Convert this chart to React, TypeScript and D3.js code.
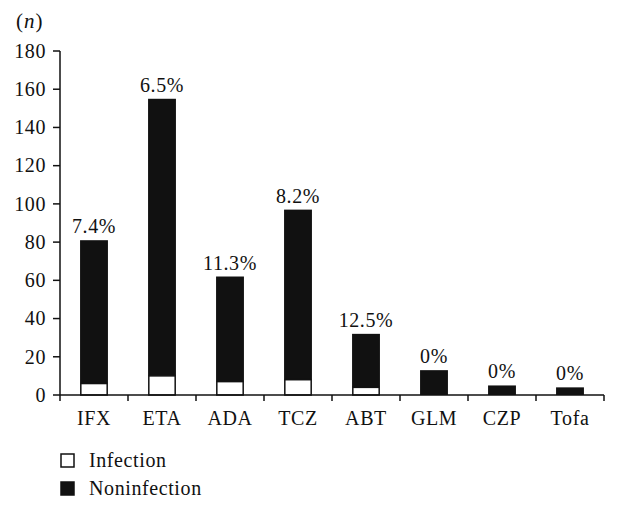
import React from "react";
import * as d3 from "d3";

const categories = ["IFX", "ETA", "ADA", "TCZ", "ABT", "GLM", "CZP", "Tofa"];
const totals = [81, 155, 62, 97, 32, 13, 5, 4];
const infection = [6, 10, 7, 8, 4, 0, 0, 0];
const percentLabels = ["7.4%", "6.5%", "11.3%", "8.2%", "12.5%", "0%", "0%", "0%"];
const yTicks = [0, 20, 40, 60, 80, 100, 120, 140, 160, 180];
const legendLabels = ["Infection", "Noninfection"];

const W = 620;
const H = 509;
const FONT = "'Liberation Serif', 'DejaVu Serif', serif";

export default function App() {
  const left = 60;
  const right = 604;
  const top = 51;
  const bottom = 395;
  const x = d3.scaleBand<string>().domain(categories).range([left, right]).paddingInner(0.59).paddingOuter(0.295);
  const y = d3.scaleLinear().domain([0, 180]).range([bottom, top]);
  const step = x.step();
  const boundaries = d3.range(categories.length + 1).map((i) => left + i * step);
  const fs = 20;
  const ls = 0.6;

  return (
    <svg width={W} height={H} style={{ position: "absolute", left: 0, top: 0, background: "#fff" }} fontFamily={FONT}>
      <rect x={0} y={0} width={W} height={H} fill="#fff" />
      <text x={16} y={28} fontSize={21} letterSpacing={1} fill="#111">
        (<tspan fontStyle="italic">n</tspan>)
      </text>
      <line x1={left} x2={left} y1={top} y2={bottom} stroke="#111" strokeWidth={1.5} />
      {yTicks.map((t) => (
        <g key={t}>
          <line x1={left - 7} x2={left} y1={y(t)} y2={y(t)} stroke="#111" strokeWidth={1.5} />
          <text x={46} y={y(t)} dy="0.34em" textAnchor="end" fontSize={fs} letterSpacing={ls} fill="#111">
            {t}
          </text>
        </g>
      ))}
      {categories.map((c, i) => {
        const bx = x(c)!;
        const bw = x.bandwidth();
        return (
          <g key={c}>
            <rect x={bx} y={y(totals[i])} width={bw} height={y(infection[i]) - y(totals[i])} fill="#111" />
            {infection[i] > 0 && (
              <rect
                x={bx + 0.75}
                y={y(infection[i])}
                width={bw - 1.5}
                height={y(0) - y(infection[i])}
                fill="#fff"
                stroke="#111"
                strokeWidth={1.5}
              />
            )}
            <text x={bx + bw / 2} y={y(totals[i]) - 7} textAnchor="middle" fontSize={fs} letterSpacing={ls} fill="#111">
              {percentLabels[i]}
            </text>
            <text x={bx + bw / 2} y={425} textAnchor="middle" fontSize={fs} letterSpacing={ls} fill="#111">
              {c}
            </text>
          </g>
        );
      })}
      <line x1={left} x2={right} y1={bottom} y2={bottom} stroke="#111" strokeWidth={1.5} />
      {boundaries.map((b, i) => (
        <line key={i} x1={b} x2={b} y1={bottom} y2={bottom + 6} stroke="#111" strokeWidth={1.5} />
      ))}
      {legendLabels.map((l, i) => (
        <g key={l}>
          <rect
            x={61}
            y={454 + i * 28}
            width={13}
            height={13}
            fill={i === 0 ? "#fff" : "#111"}
            stroke="#111"
            strokeWidth={1.5}
          />
          <text x={89} y={467 + i * 28} fontSize={fs} letterSpacing={ls} fill="#111">
            {l}
          </text>
        </g>
      ))}
    </svg>
  );
}
